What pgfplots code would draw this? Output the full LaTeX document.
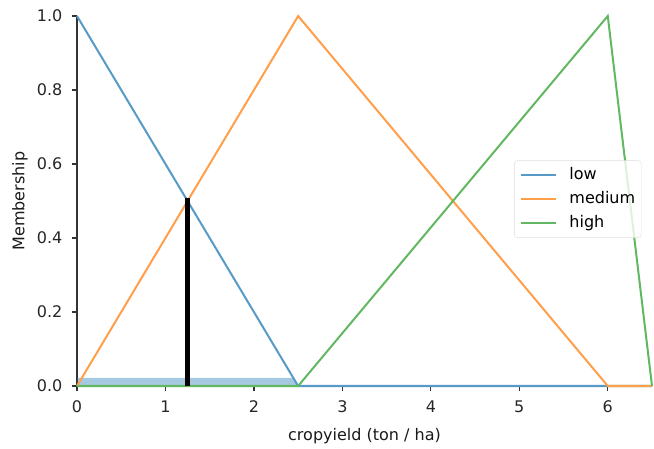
\documentclass[border=0pt]{standalone}
\usepackage{fontspec}
\setmainfont{DejaVu Sans}
\usepackage{pgfplots}
\pgfplotsset{compat=1.18}
\definecolor{tabblue}{HTML}{1F77B4}
\definecolor{taborange}{HTML}{FF7F0E}
\definecolor{tabgreen}{HTML}{2CA02C}
\newcommand\mpl{\fontsize{16bp}{19bp}\selectfont}

\begin{document}
\begin{tikzpicture}
\path[use as bounding box] (-77bp,-63bp) rectangle (577bp,386bp);
\begin{axis}[at={(0,0)},anchor=south west,
 scale only axis,width=575bp,height=370bp,
 xmin=0,xmax=6.5,ymin=0,ymax=1,clip=false,
 axis lines*=left,
 axis line style={black!80,line width=1.2bp},
 tick style={black!80,line width=1.2bp},
 tick align=outside,major tick length=5.4bp,
 xtick={0,1,2,3,4,5,6},ytick={0,0.2,0.4,0.6,0.8,1},
 yticklabel style={/pgf/number format/fixed,/pgf/number format/fixed zerofill,/pgf/number format/precision=1},
 /pgf/number format/assume math mode=true,
 every tick label/.append style={font=\mpl,text=black!85,inner sep=0pt},
 xticklabel style={anchor=north,yshift=-9bp},
 yticklabel style={anchor=east,xshift=-9bp},
 xlabel={cropyield (ton / ha)},ylabel={Membership},
 label style={font=\mpl,text=black!90},
 xlabel style={at={(axis description cs:0.5,0)},anchor=base,yshift=-54bp},
 ylabel style={at={(axis description cs:-0.0991,0.5)},anchor=center},
 legend cell align=left,
 legend image code/.code={\draw[#1] (0bp,0bp) -- (35bp,0bp);},
 legend style={at={(axis description cs:0.871,0.505)},anchor=center,
  draw=black!13,rounded corners=3bp,fill=white,fill opacity=0.8,text opacity=1,
  font=\mpl,inner xsep=6bp,inner ysep=7bp,row sep=9bp,column sep=12bp,
  nodes={inner sep=0pt,text height=11.5bp,text depth=3.5bp}},
]
\addplot[fill=tabblue,fill opacity=0.4,draw=none,forget plot]
 coordinates {(0,0) (0,0.022) (2.445,0.022) (2.5,0)} -- cycle;
\addplot[tabblue!75,line width=2bp] coordinates {(0,1) (2.5,0) (6.5,0)};
\addlegendentry{low}
\addplot[taborange!75,line width=2bp] coordinates {(0,0) (2.5,1) (6,0) (6.5,0)};
\addlegendentry{medium}
\addplot[tabgreen!75,line width=2bp] coordinates {(0,0) (2.5,0) (6,1) (6.5,0)};
\addlegendentry{high}
\addplot[black,line width=4.6bp,forget plot] coordinates {(1.25,0) (1.25,0.508)};
\end{axis}
\end{tikzpicture}
\end{document}
